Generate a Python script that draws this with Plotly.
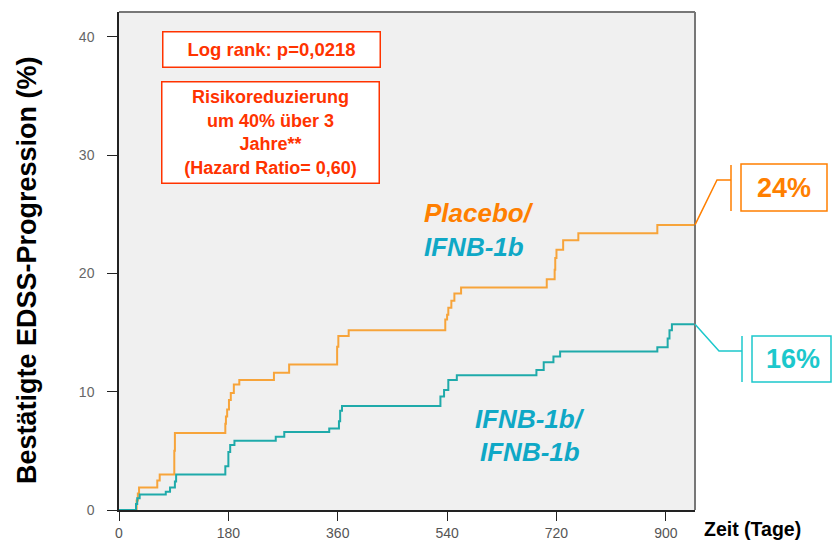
import plotly.graph_objects as go

# Kaplan-Meier steps (Tage, %)
placebo_days = [0, 29, 31, 33, 63, 67, 91, 92, 175, 176, 178, 181, 184, 189, 198, 255, 280,
                359, 361, 378, 537, 540, 542, 547, 552, 563, 704, 717, 718, 720, 731, 756, 886, 948]
placebo_pct = [0, 0.8, 1.4, 1.9, 2.5, 3.0, 5.0, 6.5, 7.3, 7.9, 8.5, 9.3, 9.9, 10.6, 11.0, 11.6, 12.3,
               13.8, 14.7, 15.2, 16.1, 16.5, 17.1, 17.7, 18.3, 18.8, 19.5, 20.3, 21.3, 22.0, 22.8, 23.4, 24.1, 24.1]

ifnb_days = [0, 28, 30, 34, 77, 84, 92, 94, 175, 180, 183, 190, 258, 272, 346, 362, 364, 367,
             529, 535, 542, 556, 687, 699, 715, 726, 886, 903, 906, 910, 948]
ifnb_pct = [0, 0.5, 1.0, 1.3, 1.55, 1.9, 2.4, 3.0, 3.7, 4.9, 5.5, 5.85, 6.2, 6.6, 6.9, 7.5, 8.4, 8.8,
            9.6, 10.15, 11.0, 11.4, 11.84, 12.5, 12.97, 13.4, 13.75, 14.5, 15.2, 15.7, 15.7]

x_ticks = [0, 180, 360, 540, 720, 900]
y_ticks = [0, 10, 20, 30, 40]
x_max = 948
y_max = 42.1

ORANGE = "#F7A43A"
TEAL = "#1FAAAA"
LABEL_ORANGE = "#FF7F00"
LABEL_TEAL = "#0FA8C6"
RED = "#FF3300"
CYAN = "#1CC8CC"

# plot area in pixels
L, R, T, B = 119, 695, 12, 510


def px(x):
    return (x - L) / (R - L)


def py(y):
    return (B - y) / (B - T)


def label(text, x, y, size, color, xanchor="center", **kw):
    fig.add_annotation(text=text, xref="paper", yref="paper", x=px(x), y=py(y),
                       xanchor=xanchor, yanchor="middle", showarrow=False,
                       font=dict(size=size, color=color), **kw)


fig = go.Figure()

fig.add_trace(go.Scatter(x=placebo_days, y=placebo_pct, mode='lines', line_shape='hv',
                         line=dict(color=ORANGE, width=2), name='Placebo/IFNB-1b'))
fig.add_trace(go.Scatter(x=ifnb_days, y=ifnb_pct, mode='lines', line_shape='hv',
                         line=dict(color=TEAL, width=2), name='IFNB-1b/IFNB-1b'))

font_main = "Liberation Sans, Arial, sans-serif"

fig.update_layout(
    width=832, height=542,
    margin=dict(l=L, r=832 - R, t=T, b=542 - B),
    paper_bgcolor="white",
    plot_bgcolor="#F0F0F0",
    showlegend=False,
    font=dict(family=font_main),
    xaxis=dict(range=[0, x_max], tickvals=x_ticks, showgrid=False, zeroline=False,
               showline=True, linecolor="#222", linewidth=1.5, automargin=False,
               ticks="outside", ticklen=9, tickcolor="#222",
               tickfont=dict(size=14, color="#555",
                             family="Liberation Sans Narrow, Arial Narrow, Liberation Sans")),
    yaxis=dict(range=[0, y_max], tickvals=y_ticks, showgrid=False, zeroline=False,
               showline=True, linecolor="#222", linewidth=1.5, automargin=False,
               ticks="outside", ticklen=10, tickcolor="#222", ticklabelstandoff=10,
               tickfont=dict(size=14, color="#666")),
)

# grey frame top/right
fig.add_shape(type="line", xref="paper", yref="paper", x0=0, x1=1, y0=1, y1=1,
              line=dict(color="#777", width=2))
fig.add_shape(type="line", xref="paper", yref="paper", x0=1, x1=1, y0=0, y1=1,
              line=dict(color="#777", width=2))

# axis titles
label("<b>Bestätigte EDSS-Progression (%)</b>", 27, 270, 27, "black", textangle=-90)
label("<b>Zeit (Tage)</b>", 702, 529, 19.5, "black", xanchor="left")

# stats boxes
label("<b>Log rank: p=0,0218</b>", 271, 50, 18.5, RED, width=214, height=32,
      bgcolor="white", bordercolor=RED, borderwidth=1.5, borderpad=1)
label("<b>Risikoreduzierung<br>um 40% über 3<br>Jahre**<br>(Hazard Ratio= 0,60)</b>", 270.5, 132.5, 18, RED,
      width=214, height=98, bgcolor="white", bordercolor=RED, borderwidth=1.5, borderpad=1)

# group labels
label("<b><i>Placebo/</i></b>", 422, 213, 26, LABEL_ORANGE, xanchor="left")
label("<b><i>IFNB-1b</i></b>", 422, 247, 26, LABEL_TEAL, xanchor="left")
label("<b><i>IFNB-1b/</i></b>", 530, 419, 26, LABEL_TEAL)
label("<b><i>IFNB-1b</i></b>", 530, 452, 26, LABEL_TEAL)

# end-value callouts
end_placebo = placebo_pct[-1]
end_ifnb = ifnb_pct[-1]

fig.add_shape(type="path", xref="paper", yref="paper",
              path=f"M 1,{end_placebo / y_max} L {px(717)},{py(180)} L {px(731)},{py(180)}",
              line=dict(color=LABEL_ORANGE, width=1.5))
fig.add_shape(type="line", xref="paper", yref="paper", x0=px(731), x1=px(731), y0=py(165), y1=py(211),
              line=dict(color=LABEL_ORANGE, width=1.5))
fig.add_shape(type="rect", xref="paper", yref="paper", x0=px(741), x1=px(827), y0=py(164), y1=py(211),
              line=dict(color=LABEL_ORANGE, width=1.5), fillcolor="white")
label(f"<b>{round(end_placebo)}%</b>", 784, 188, 27, LABEL_ORANGE)

fig.add_shape(type="path", xref="paper", yref="paper",
              path=f"M 1,{end_ifnb / y_max} L {px(719)},{py(351)} L {px(742)},{py(351)}",
              line=dict(color=CYAN, width=1.5))
fig.add_shape(type="line", xref="paper", yref="paper", x0=px(742), x1=px(742), y0=py(336), y1=py(382),
              line=dict(color=CYAN, width=1.5))
fig.add_shape(type="rect", xref="paper", yref="paper", x0=px(752), x1=px(831), y0=py(336), y1=py(382),
              line=dict(color=CYAN, width=1.5), fillcolor="white")
label(f"<b>{round(end_ifnb)}%</b>", 793, 359, 27, CYAN)

fig.write_html("out.html", config={"displayModeBar": False},
               post_script="document.body.style.margin='0';")
